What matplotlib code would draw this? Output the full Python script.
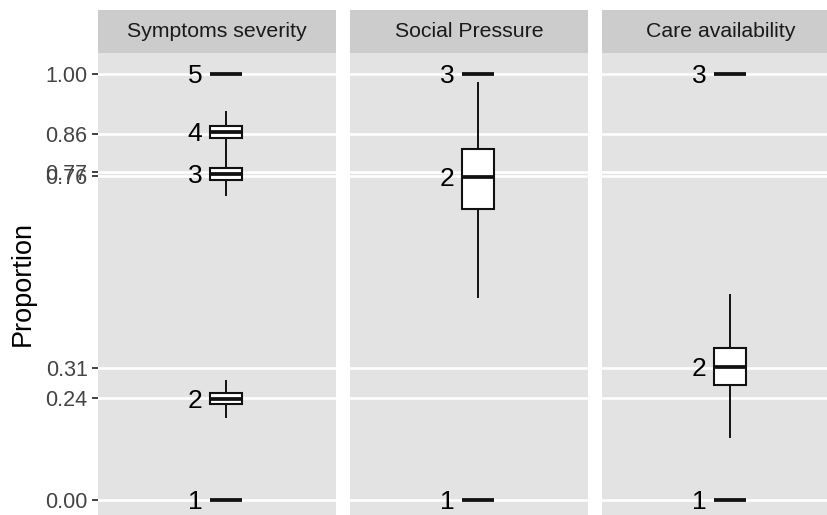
import matplotlib
matplotlib.use("Agg")
import matplotlib.pyplot as plt

plt.rcParams['font.family'] = ['Liberation Sans', 'DejaVu Sans']

# facet titles
facets = ['Symptoms severity', 'Social Pressure', 'Care availability']

# box statistics per facet: category label, whisker low, Q1, median, Q3, whisker high
severity_labels = ['1', '2', '3', '4', '5']
severity_lo = [0.0, 0.194, 0.716, 0.817, 1.0]
severity_q1 = [0.0, 0.225, 0.751, 0.850, 1.0]
severity_med = [0.0, 0.237, 0.765, 0.864, 1.0]
severity_q3 = [0.0, 0.250, 0.779, 0.878, 1.0]
severity_hi = [0.0, 0.280, 0.817, 0.910, 1.0]

pressure_labels = ['1', '2', '3']
pressure_lo = [0.0, 0.477, 1.0]
pressure_q1 = [0.0, 0.683, 1.0]
pressure_med = [0.0, 0.759, 1.0]
pressure_q3 = [0.0, 0.824, 1.0]
pressure_hi = [0.0, 0.978, 1.0]

care_labels = ['1', '2', '3']
care_lo = [0.0, 0.149, 1.0]
care_q1 = [0.0, 0.271, 1.0]
care_med = [0.0, 0.313, 1.0]
care_q3 = [0.0, 0.356, 1.0]
care_hi = [0.0, 0.480, 1.0]

# y axis breaks shown
y_ticks = [0.00, 0.24, 0.31, 0.76, 0.77, 0.86, 1.00]

panels = [
    (severity_labels, severity_lo, severity_q1, severity_med, severity_q3, severity_hi),
    (pressure_labels, pressure_lo, pressure_q1, pressure_med, pressure_q3, pressure_hi),
    (care_labels, care_lo, care_q1, care_med, care_q3, care_hi),
]

W, H = 828, 515
fig = plt.figure(figsize=(W / 100, H / 100), dpi=100)

panel_left = [98, 350, 602]
panel_w = 238
strip_top, strip_bot = 10, 53

for i, (title, data) in enumerate(zip(facets, panels)):
    labels, lo, q1, med, q3, hi = data
    ax = fig.add_axes([panel_left[i] / W, 0, panel_w / W, (H - strip_bot) / H])
    ax.set_facecolor('#E3E3E3')
    for s in ax.spines.values():
        s.set_visible(False)

    stats = []
    for lab, a, b, c, d, e in zip(labels, lo, q1, med, q3, hi):
        stats.append(dict(label=lab, whislo=a, q1=b, med=c, q3=d, whishi=e, fliers=[]))
    ax.bxp(stats, positions=[1] * len(stats), widths=0.15, showcaps=False,
           patch_artist=True,
           boxprops=dict(facecolor='white', edgecolor='#111111', linewidth=1.5),
           whiskerprops=dict(color='#111111', linewidth=1.4),
           medianprops=dict(color='#111111', linewidth=2.7, solid_capstyle='butt'),
           manage_ticks=False, zorder=3)

    for lab, c in zip(labels, med):
        ax.annotate(lab, xy=(1 - 0.075, c), xytext=(-5.5, -1.5), textcoords='offset points',
                    ha='right', va='center', fontsize=19, color='black', zorder=4)

    ax.set_xlim(0.401, 1.516)
    ax.set_ylim(-0.0352, 1.049)
    ax.set_xticks([])
    ax.set_yticks(y_ticks)
    ax.yaxis.grid(True, color='white', linewidth=1.9)
    ax.set_axisbelow(True)
    if i == 0:
        ax.set_yticklabels([f'{t:.2f}' for t in y_ticks])
        ax.tick_params(axis='y', length=4.5, width=1.3, color='#333333',
                       labelcolor='#444444', labelsize=15.5, pad=3)
        ax.set_ylabel('Proportion', fontsize=19.5, color='black', labelpad=7)
    else:
        ax.tick_params(axis='y', length=0, labelleft=False)

    sax = fig.add_axes([panel_left[i] / W, (H - strip_bot) / H, panel_w / W,
                        (strip_bot - strip_top) / H])
    sax.set_facecolor('#CCCCCC')
    for s in sax.spines.values():
        s.set_visible(False)
    sax.set_xticks([])
    sax.set_yticks([])
    sax.text(0.5, 0.5, title, ha='center', va='center', fontsize=15.3,
             color='#1A1A1A', transform=sax.transAxes)

fig.savefig('out.png', dpi=100, facecolor='white')
